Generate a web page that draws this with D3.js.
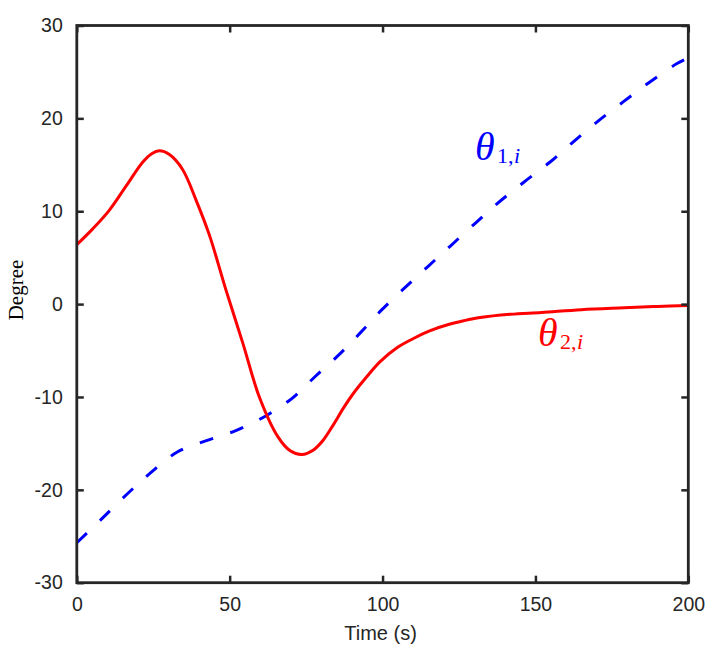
<!DOCTYPE html>
<html>
<head>
<meta charset="utf-8">
<script src="https://cdn.jsdelivr.net/npm/d3@7"></script>
<style>
html,body{margin:0;padding:0;background:#fff;}
svg{display:block;}
</style>
</head>
<body>
<script>
// ---- data ----
const xTicks = [0, 50, 100, 150, 200];
const yTicks = [-30, -20, -10, 0, 10, 20, 30];

const t1 = [0, 7.6, 16.3, 24, 33, 42.4, 52.2, 61.5, 70.2, 77.8, 85.6, 92.7, 99.8, 107.4, 115, 122, 130.3, 137.4, 146.1, 154.8, 162.5, 170.1, 178.8, 186.5, 196.3, 200];
const theta1 = [-25.7, -23.3, -20.5, -18.2, -15.9, -14.7, -13.6, -12.1, -10.2, -7.85, -5.5, -3.1, -0.6, 1.8, 4.1, 6.2, 8.7, 10.8, 13.1, 15.3, 17.5, 19.6, 21.8, 23.7, 25.9, 26.5];

const t2 = [0, 5.2, 10.6, 16.1, 21.6, 24.5, 27, 30.3, 34.6, 39, 43.4, 48.8, 54.3, 59.7, 65.8, 69.8, 73.6, 77.4, 80.7, 83.9, 87.2, 90.5, 94.9, 99.2, 104.7, 110.1, 115.6, 121, 126.5, 131.9, 141.8, 152, 165, 179, 190, 200];
const theta2 = [6.4, 8.1, 10.1, 12.7, 15.3, 16.2, 16.5, 16.1, 14.5, 11.2, 7.4, 1.5, -4.2, -10.0, -14.3, -15.8, -16.2, -15.7, -14.6, -13.0, -11.2, -9.6, -7.8, -6.2, -4.7, -3.7, -2.85, -2.25, -1.8, -1.45, -1.1, -0.9, -0.6, -0.4, -0.25, -0.15];

// ---- layout ----
const W = 712, H = 663;
const L = 76.8, R = 688.3, T = 25.5, B = 582.7;
const axisColor = "#262626";

const svg = d3.select("body").append("svg").attr("width", W).attr("height", H);
svg.append("rect").attr("width", W).attr("height", H).attr("fill", "#fff");

const x = d3.scaleLinear().domain([0, 200]).range([L, R]);
const y = d3.scaleLinear().domain([-30, 30]).range([B, T]);

svg.append("clipPath").attr("id", "c").append("rect")
  .attr("x", L).attr("y", T).attr("width", R - L).attr("height", B - T);

const line = d3.line().x(d => x(d[0])).y(d => y(d[1])).curve(d3.curveCatmullRom.alpha(0.5));

const g = svg.append("g").attr("clip-path", "url(#c)");
g.append("path").datum(t1.map((t, i) => [t, theta1[i]]))
  .attr("d", line).attr("fill", "none").attr("stroke", "#0000ff")
  .attr("stroke-width", 3).attr("stroke-dasharray", "14,18");
g.append("path").datum(t2.map((t, i) => [t, theta2[i]]))
  .attr("d", line).attr("fill", "none").attr("stroke", "#ff0000")
  .attr("stroke-width", 3);

// ---- axes ----
const tickLen = 7;
const font = "'Liberation Sans', Arial, sans-serif";
const fs = "19.5px";

const xAxisB = d3.axisBottom(x).tickValues(xTicks).tickSizeInner(-tickLen).tickSizeOuter(0).tickPadding(14);
const xAxisT = d3.axisTop(x).tickValues(xTicks).tickSizeInner(-tickLen).tickSizeOuter(0).tickFormat("");
const yAxisL = d3.axisLeft(y).tickValues(yTicks).tickSizeInner(-tickLen).tickSizeOuter(0).tickPadding(14).tickFormat(d3.format("d"));
const yAxisR = d3.axisRight(y).tickValues(yTicks).tickSizeInner(-tickLen).tickSizeOuter(0).tickFormat("");

function style(sel) {
  sel.select(".domain").remove();
  sel.selectAll(".tick line").attr("stroke", axisColor).attr("stroke-width", 2.5);
  sel.selectAll(".tick text").attr("fill", axisColor).style("font-family", font).style("font-size", fs);
}
svg.append("g").attr("transform", `translate(0,${B})`).call(xAxisB).call(style);
svg.append("g").attr("transform", `translate(0,${T})`).call(xAxisT).call(style);
svg.append("g").attr("transform", `translate(${L},0)`).call(yAxisL).call(style);
svg.append("g").attr("transform", `translate(${R},0)`).call(yAxisR).call(style);

svg.selectAll(".tick text").text(function() { return d3.select(this).text().replace("\u2212", "-"); });

// box
svg.append("rect").attr("x", L).attr("y", T).attr("width", R - L).attr("height", B - T)
  .attr("fill", "none").attr("stroke", axisColor).attr("stroke-width", 2.8);

// axis labels
svg.append("text").attr("x", (L + R) / 2 - 2).attr("y", 640).attr("text-anchor", "middle")
  .attr("fill", axisColor).style("font-family", font).style("font-size", "20px").text("Time (s)");

svg.append("text").attr("transform", `translate(23,290) rotate(-90)`)
  .attr("text-anchor", "middle").attr("fill", "#000")
  .style("font-family", "'Liberation Serif', 'DejaVu Serif', serif").style("font-size", "21px").text("Degree");

// curve labels
function mathLabel(xp, yp, sub, color) {
  const t = svg.append("text").attr("y", yp).attr("fill", color)
    .style("font-family", "'Liberation Serif', 'DejaVu Serif', serif");
  t.append("tspan").attr("x", xp).style("font-style", "italic").style("font-size", "40px").text("\u03b8");
  t.append("tspan").attr("x", xp + 22).attr("dy", 3).style("font-size", "22px").text(sub[0]);
  t.append("tspan").attr("x", xp + 33).style("font-size", "22px").text(",");
  t.append("tspan").attr("x", xp + 39).style("font-style", "italic").style("font-size", "22px").text(sub[1]);
}
mathLabel(475, 160, ["1", "i"], "#0000ff");
mathLabel(538, 346, ["2", "i"], "#ff0000");
</script>
</body>
</html>
